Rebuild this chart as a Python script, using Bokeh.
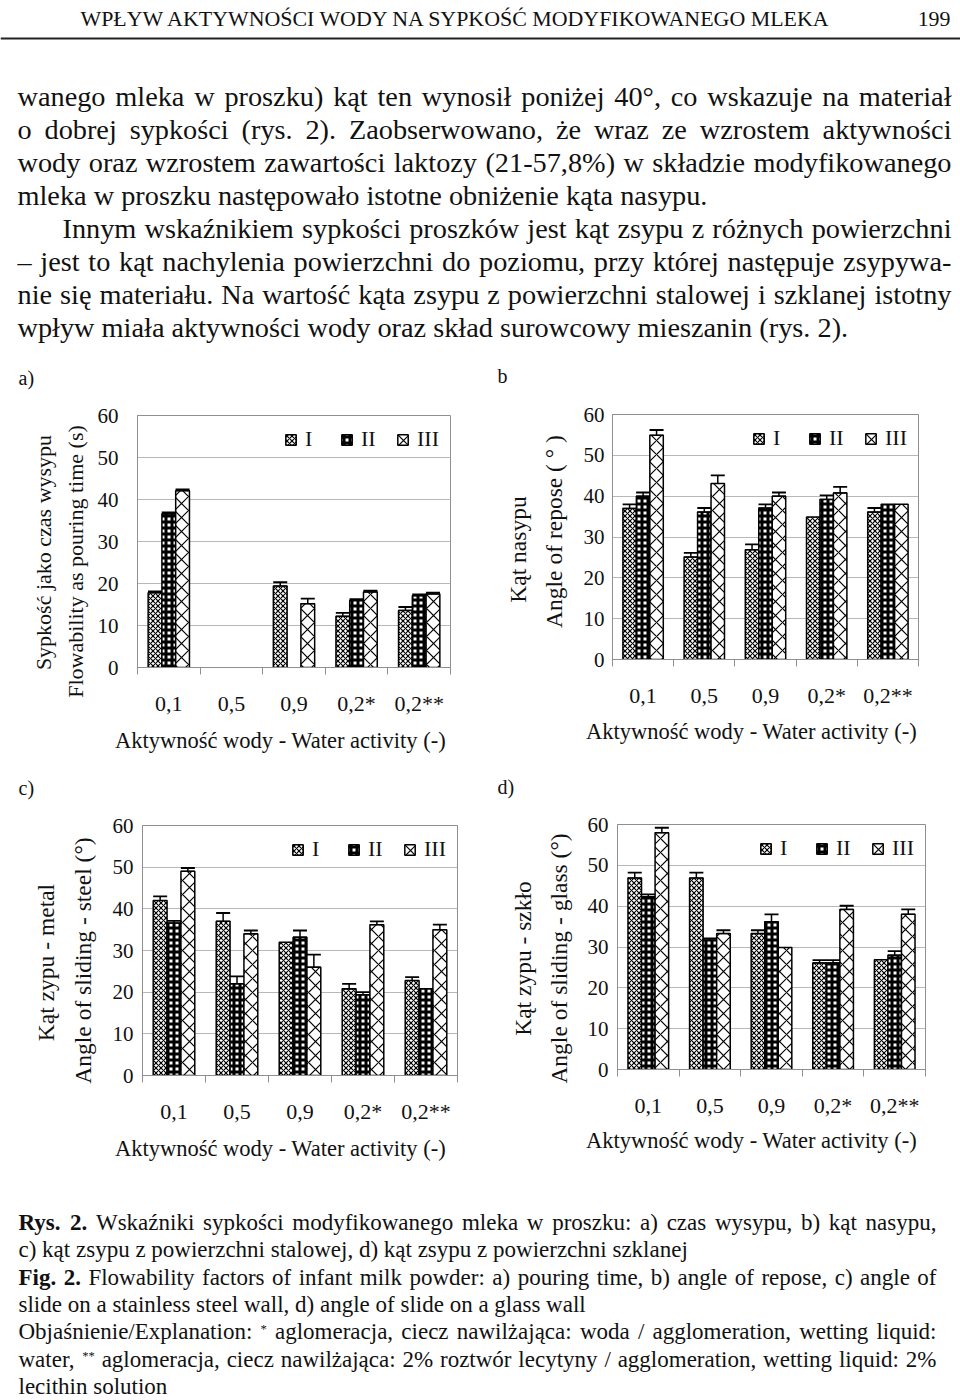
import math
from bokeh.plotting import figure
from bokeh.layouts import column, row
from bokeh.models import ColumnDataSource, Range1d, FixedTicker, Whisker, TeeHead
from bokeh.core.properties import value
from bokeh.embed import file_html
from bokeh.resources import INLINE

NaN = float("nan")
FONT = "Liberation Serif"

# ---------------- data ----------------
categories = ["0,1", "0,5", "0,9", "0,2*", "0,2**"]
series_names = ["I", "II", "III"]
y_ticks = [0, 10, 20, 30, 40, 50, 60]

# a) pouring time (s)
a_I = [17.8, NaN, 19.4, 12.2, 13.6]
a_II = [36.6, NaN, NaN, 16.0, 17.1]
a_III = [42.1, NaN, 15.2, 18.0, 17.5]
a_err_I = [0.3, 0, 0.9, 0.8, 0.8]
a_err_II = [0.3, 0, 0, 0.3, 0.3]
a_err_III = [0.3, 0, 1.2, 0.3, 0.3]

# b) angle of repose
b_I = [37.0, 25.1, 26.9, 34.9, 36.1]
b_II = [40.0, 36.1, 37.1, 39.2, 38.0]
b_III = [54.9, 43.1, 40.0, 40.8, 38.0]
b_err_I = [1.0, 1.0, 1.3, 0, 1.0]
b_err_II = [0.9, 1.0, 0.9, 1.0, 0]
b_err_III = [1.3, 2.0, 0.9, 1.5, 0]

# c) angle of sliding - steel
c_I = [42.0, 37.0, 32.0, 20.8, 22.8]
c_II = [36.6, 22.0, 33.2, 19.4, 20.8]
c_III = [49.0, 34.0, 26.0, 36.2, 35.0]
c_err_I = [1.0, 2.0, 0, 1.2, 0.8]
c_err_II = [0.5, 1.8, 1.6, 0.6, 0]
c_err_III = [0.8, 0.8, 3.0, 0.8, 1.2]

# d) angle of sliding - glass
d_I = [46.9, 46.9, 33.3, 26.1, 26.9]
d_II = [42.3, 31.7, 36.2, 26.1, 28.0]
d_III = [58.0, 33.3, 29.9, 39.2, 38.0]
d_err_I = [1.3, 1.3, 0.8, 0.7, 0]
d_err_II = [0.6, 0.4, 1.8, 0.7, 1.0]
d_err_III = [1.2, 0.8, 0, 0.9, 1.2]

x_title = "Aktywność wody - Water activity (-)"

header_text = "WPŁYW AKTYWNOŚCI WODY NA SYPKOŚĆ MODYFIKOWANEGO MLEKA"
page_number = "199"

paragraph = [
    ("wanego mleka w proszku) kąt ten wynosił poniżej 40°, co wskazuje na materiał", False, True),
    ("o dobrej sypkości (rys. 2). Zaobserwowano, że wraz ze wzrostem aktywności", False, True),
    ("wody oraz wzrostem zawartości laktozy (21-57,8%) w składzie modyfikowanego", False, True),
    ("mleka w proszku następowało istotne obniżenie kąta nasypu.", False, False),
    ("Innym wskaźnikiem sypkości proszków jest kąt zsypu z różnych powierzchni", True, True),
    ("– jest to kąt nachylenia powierzchni do poziomu, przy której następuje zsypywa-", False, True),
    ("nie się materiału. Na wartość kąta zsypu z powierzchni stalowej i szklanej istotny", False, True),
    ("wpływ miała aktywności wody oraz skład surowcowy mieszanin (rys. 2).", False, False),
]

caption = [
    ("§Rys. §2. Wskaźniki sypkości modyfikowanego mleka w proszku: a) czas wysypu, b) kąt nasypu,", True),
    ("c) kąt zsypu z powierzchni stalowej, d) kąt zsypu z powierzchni szklanej", False),
    ("§Fig. §2. Flowability factors of infant milk powder: a) pouring time, b) angle of repose, c) angle of", True),
    ("slide on a stainless steel wall, d) angle of slide on a glass wall", False),
    ("Objaśnienie/Explanation: ^* aglomeracja, ciecz nawilżająca: woda / agglomeration, wetting liquid:", True),
    ("water, ^** aglomeracja, ciecz nawilżająca: 2% roztwór lecytyny / agglomeration, wetting liquid: 2%", True),
    ("lecithin solution", False),
]

# ---------------- text metrics (Times-compatible) ----------------
W = {" ": 250, "!": 333, "(": 333, ")": 333, "*": 500, ",": 250, "-": 333, ".": 250,
     "/": 278, ":": 278, ";": 278, "%": 833, "°": 400, "–": 500}
for ch in "0123456789":
    W[ch] = 500
W.update(dict(A=722, B=667, C=667, D=722, E=611, F=556, G=722, H=722, I=333, J=389, K=722,
              L=611, M=889, N=722, O=722, P=556, Q=722, R=667, S=556, T=611, U=722, V=722,
              W=944, X=722, Y=722, Z=611))
W.update(dict(a=444, b=500, c=444, d=500, e=444, f=333, g=500, h=500, i=278, j=278, k=500,
              l=278, m=778, n=500, o=500, p=500, q=500, r=333, s=389, t=278, u=500, v=500,
              w=722, x=500, y=500, z=444))
W.update({"ą": 444, "ę": 444, "ć": 444, "ł": 278, "ń": 500, "ó": 500, "ś": 389, "ź": 444,
          "ż": 444, "Ł": 611, "Ś": 556, "Ć": 667, "Ż": 611})
WB = {"R": 722, "F": 611, "g": 500, "i": 278, "y": 500, "s": 389, ".": 250, "2": 500}


def em_width(s, bold=False):
    t = 0
    for ch in s:
        t += (WB.get(ch, W.get(ch, 500)) if bold else W.get(ch, 500))
    return t / 1000.0


def parse(spec):
    out = []
    for tok in spec.split(" "):
        if tok.startswith("§"):
            out.append((tok[1:], "bold"))
        elif tok.startswith("^"):
            out.append((tok[1:], "sup"))
        else:
            out.append((tok, "normal"))
    return out


class Sink:
    """Collects texts given in page coordinates (y = baseline); renders into a figure at (ox, oy)."""

    def __init__(self, ox, oy):
        self.ox, self.oy = ox, oy
        self.groups = {}

    def add(self, x, y, text, size, style="normal", align="left", angle=0.0, raw=False):
        key = (round(size, 2), style, align, angle)
        g = self.groups.setdefault(key, dict(x=[], y=[], text=[]))
        g["x"].append(x - self.ox)
        g["y"].append(y - self.oy - (0 if raw else 0.3 * size))
        g["text"].append(text)

    def render(self, p):
        for (size, style, align, angle), g in self.groups.items():
            p.text(x="x", y="y", text="text", source=ColumnDataSource(g), angle=angle,
                   text_font=value(FONT), text_font_size=value(f"{size}px"),
                   text_font_style=value(style), text_align=value(align),
                   text_baseline=value("alphabetic"), text_color="#111111")


def fit_size(lines, widths, base):
    fs = base
    for words, wd in zip(lines, widths):
        n = len(words)
        em = sum(em_width(w, k == "bold") * (0.55 if k == "sup" else 1.0) for w, k in words)
        fs = min(fs, wd / (em + 0.2 * (n - 1)))
    return fs


def place(sink, words, x0, x1, y, fs, justify):
    if not justify:
        sink.add(x0, y, " ".join(w for w, _ in words), fs)
        return
    sizes = [fs * 0.55 if k == "sup" else fs for _, k in words]
    widths = [em_width(w, k == "bold") * s for (w, k), s in zip(words, sizes)]
    gap = (x1 - x0 - sum(widths)) / (len(words) - 1)
    x = x0
    last = len(words) - 1
    for i, ((w, k), s, wd) in enumerate(zip(words, sizes, widths)):
        st = "bold" if k == "bold" else "normal"
        if k == "sup":
            sink.add(x, y - fs * 0.42, w, s, raw=True)
        elif i == last:
            sink.add(x1, y, w, s, st, "right")
        else:
            sink.add(x, y, w, s, st)
        x += wd + gap


def text_figure(width, height):
    p = figure(width=width, height=height, x_range=Range1d(0, width), y_range=Range1d(height, 0),
               x_axis_location=None, y_axis_location=None, output_backend="svg",
               toolbar_location=None, min_border=0, title=None)
    p.grid.visible = False
    p.outline_line_color = None
    return p


PAGE_W, PAGE_H = 960, 1400
LEFT_W = 484
RIGHT_W = PAGE_W - LEFT_W
TOP_H = 398
MID_TOP = 810
CAP_TOP = 1165
XT_FS = 22.5
PANEL_FS = 20

# ---------------- header + paragraph + panel labels a) b ----------------
top = text_figure(PAGE_W, TOP_H)
sink = Sink(0, 0)
hfs = 755.0 / em_width(header_text)
sink.add(80, 25, header_text, hfs)
sink.add(950, 25, page_number, hfs, "normal", "right")
top.segment(x0=[0], y0=[38], x1=[PAGE_W], y1=[38], line_color="#222222", line_width=2)

para_words = [parse(t) for t, _, _ in paragraph]
para_x0 = [62 if ind else 17 for _, ind, _ in paragraph]
para_x1 = 951
just_lines = [w for w, (_, _, j) in zip(para_words, paragraph) if j]
just_w = [para_x1 - x0 for x0, (_, _, j) in zip(para_x0, paragraph) if j]
pfs = fit_size(just_lines, just_w, 28.3)
for i, (words, x0, (_, _, j)) in enumerate(zip(para_words, para_x0, paragraph)):
    place(sink, words, x0, para_x1, 104.5 + 33.0 * i, pfs, j)
sink.add(18, 383, "a)", PANEL_FS)
sink.add(497, 381, "b", PANEL_FS)
sink.render(top)


def strip(x0, y0, w, h, items):
    p = text_figure(w, h)
    s = Sink(x0, y0)
    for (x, y, t, fs, al) in items:
        s.add(x, y, t, fs, "normal", al)
    s.render(p)
    return p


# ---------------- caption ----------------
cap = text_figure(PAGE_W, PAGE_H - CAP_TOP)
csink = Sink(0, CAP_TOP)
cap_words = [parse(t) for t, _ in caption]
cx0, cx1 = 18, 936
cfs = fit_size([w for w, (_, j) in zip(cap_words, caption) if j],
               [cx1 - cx0 for _, j in caption if j], 23.0)
for i, (words, (_, j)) in enumerate(zip(cap_words, caption)):
    place(csink, words, cx0, cx1, 1229 + 27.3 * i, cfs, j)
csink.render(cap)

# ---------------- charts ----------------
BAR_W = 0.22
OFFSETS = [-BAR_W, 0.0, BAR_W]
STYLES = [
    dict(fill_color="white", hatch_pattern="diagonal_cross", hatch_scale=5, hatch_weight=1.2, hatch_color="black"),
    dict(fill_color="white", hatch_pattern="cross", hatch_scale=6, hatch_weight=3.0, hatch_color="black"),
    dict(fill_color="white", hatch_pattern="diagonal_cross", hatch_scale=14, hatch_weight=1.2, hatch_color="black"),
]
GRID = "#b8b8b8"
FRAME = "#8f8f8f"


def make_chart(vals, errs, width, height, borders, tick_stand):
    bl, br, bt, bb = borders
    p = figure(width=width, height=height, x_range=Range1d(-0.5, len(categories) - 0.5),
               y_range=Range1d(y_ticks[0], y_ticks[-1]), output_backend="svg",
               toolbar_location=None, title=None, min_border_left=bl, min_border_right=br,
               min_border_top=bt, min_border_bottom=bb)
    p.background_fill_color = "white"
    p.outline_line_color = FRAME
    p.outline_line_width = 1

    for j, name in enumerate(series_names):
        xs = [i + OFFSETS[j] for i in range(len(categories))]
        p.vbar(x="x", top="top", bottom=0, width=BAR_W,
               source=ColumnDataSource(dict(x=xs, top=vals[j])),
               line_color="black", line_width=1.5, legend_label=name, **STYLES[j])
        bx, lo, up = [], [], []
        for x, v, e in zip(xs, vals[j], errs[j]):
            if e > 0 and not math.isnan(v):
                bx.append(x)
                lo.append(v)
                up.append(v + e)
        if bx:
            p.add_layout(Whisker(source=ColumnDataSource(dict(base=bx, lower=lo, upper=up)),
                                 base="base", lower="lower", upper="upper", level="annotation",
                                 line_color="black", line_width=1.5,
                                 upper_head=TeeHead(size=14, line_color="black", line_width=1.8),
                                 lower_head=TeeHead(size=14, line_color="black", line_width=1.2)))

    xa = p.xaxis[0]
    xa.ticker = FixedTicker(ticks=list(range(len(categories))),
                            minor_ticks=[i - 0.5 for i in range(len(categories) + 1)])
    xa.major_label_overrides = {i: c for i, c in enumerate(categories)}
    xa.major_tick_line_color = None
    xa.major_tick_in = 0
    xa.major_tick_out = 0
    xa.minor_tick_in = 0
    xa.minor_tick_out = 7
    xa.minor_tick_line_color = FRAME
    xa.axis_line_color = FRAME
    xa.major_label_standoff = 16
    xa.major_label_text_font = FONT
    xa.major_label_text_font_size = "22px"
    xa.major_label_text_color = "#111111"

    ya = p.yaxis[0]
    ya.ticker = FixedTicker(ticks=y_ticks, minor_ticks=[])
    ya.major_tick_line_color = None
    ya.major_tick_in = 0
    ya.major_tick_out = 0
    ya.minor_tick_line_color = None
    ya.axis_line_color = FRAME
    ya.major_label_standoff = tick_stand
    ya.major_label_text_font = FONT
    ya.major_label_text_font_size = "21px"
    ya.major_label_text_color = "#111111"

    p.xgrid.visible = False
    p.ygrid.ticker = FixedTicker(ticks=y_ticks)
    p.ygrid.grid_line_color = GRID
    p.ygrid.grid_line_width = 1

    lg = p.legend[0]
    lg.location = "top_right"
    lg.orientation = "horizontal"
    lg.label_text_font = FONT
    lg.label_text_font_size = "22px"
    lg.label_text_color = "#111111"
    lg.glyph_width = 13
    lg.glyph_height = 13
    lg.label_standoff = 8
    lg.spacing = 15
    lg.padding = 8
    lg.margin = 3
    lg.background_fill_alpha = 0
    lg.border_line_alpha = 0
    return p


def chart_group(vals, errs, x0, y0, total_w, height, text_w, frame, tick_stand, labels, lab_fs):
    """frame = (left, right, top, bottom) page coordinates of the plot frame."""
    fl, fr, ft, fb = frame
    side = text_figure(text_w, height)
    s = Sink(x0, y0)
    for (cx, cy, t) in labels:
        s.add(cx, cy, t, lab_fs, "normal", "center", math.pi / 2, raw=True)
    s.render(side)
    cw = total_w - text_w
    p = make_chart(vals, errs, cw, height,
                   (int(round(fl - x0 - text_w)), int(round(x0 + total_w - fr)),
                    int(round(ft - y0)), int(round(y0 + height - fb))), tick_stand)
    # wrap each plot separately so their frames are not aligned to each other
    return row(column(side), column(p))


# left column: a (398-724), strip (724-810), c (810-1132), strip (1132-1165)
ga = chart_group([a_I, a_II, a_III], [a_err_I, a_err_II, a_err_III], 0, TOP_H, LEFT_W, 724 - TOP_H, 90,
                 (137, 450, 415, 667), 19,
                 [(43, 552, "Sypkość jako czas wysypu"), (75, 561, "Flowability as pouring time (s)")], 22)
sL1 = strip(0, 724, LEFT_W, MID_TOP - 724,
            [(280, 747, x_title, XT_FS, "center"), (18, 793, "c)", PANEL_FS, "left")])
gc = chart_group([c_I, c_II, c_III], [c_err_I, c_err_II, c_err_III], 0, MID_TOP, LEFT_W, 1132 - MID_TOP, 98,
                 (142, 457, 825, 1075), 9,
                 [(45, 962, "Kąt zypu - metal"), (82, 960, "Angle of sliding - steel (°)")], 23.5)
sL2 = strip(0, 1132, LEFT_W, CAP_TOP - 1132, [(280, 1155, x_title, XT_FS, "center")])

# right column: b (398-716), strip (716-810), d (810-1126), strip (1126-1165)
gb = chart_group([b_I, b_II, b_III], [b_err_I, b_err_II, b_err_III], LEFT_W, TOP_H, RIGHT_W, 716 - TOP_H, 88,
                 (612, 918, 414, 659), 8,
                 [(517, 549, "Kąt nasypu"), (553, 531, "Angle of repose ( ° )")], 23.5)
sR1 = strip(LEFT_W, 716, RIGHT_W, MID_TOP - 716,
            [(751, 738, x_title, XT_FS, "center"), (497, 792, "d)", PANEL_FS, "left")])
gd = chart_group([d_I, d_II, d_III], [d_err_I, d_err_II, d_err_III], LEFT_W, MID_TOP, RIGHT_W, 1126 - MID_TOP, 92,
                 (617, 925, 824, 1069), 9,
                 [(522, 958, "Kąt zypu - szkło"), (558, 958, "Angle of sliding - glass (°)")], 23.5)
sR2 = strip(LEFT_W, 1126, RIGHT_W, CAP_TOP - 1126, [(751, 1147, x_title, XT_FS, "center")])

layout = column(top,
                row(column(ga, sL1, gc, sL2), column(gb, sR1, gd, sR2)),
                cap)
open("out.html", "w").write(file_html(layout, INLINE))
